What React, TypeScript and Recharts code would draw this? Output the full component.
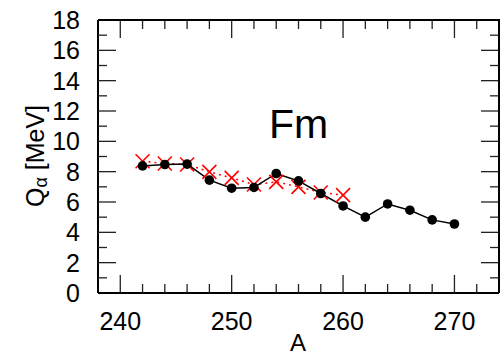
import React from 'react'
import { LineChart, Line, XAxis, YAxis } from 'recharts'

// mass number A
const massNumbers = [242, 244, 246, 248, 250, 252, 254, 256, 258, 260, 262, 264, 266, 268, 270]
// Q-alpha (MeV), black circles
const qExp = [8.38, 8.47, 8.5, 7.44, 6.91, 6.96, 7.88, 7.39, 6.56, 5.74, 5.0, 5.87, 5.46, 4.82, 4.55]
// Q-alpha (MeV), red crosses (only up to A=260)
const qCalc = [8.69, 8.54, 8.47, 7.99, 7.59, 7.15, 7.33, 7.0, 6.63, 6.45]

const xMajor = [240, 250, 260, 270]
const xTicks = [238, 240, 242, 244, 246, 248, 250, 252, 254, 256, 258, 260, 262, 264, 266, 268, 270, 272, 274]
const yTicks = [0, 1, 2, 3, 4, 5, 6, 7, 8, 9, 10, 11, 12, 13, 14, 15, 16, 17, 18]

const data = massNumbers.map((a, i) => ({ a, exp: qExp[i], calc: i < qCalc.length ? qCalc[i] : null }))

const W = 500
const H = 356
const M = { top: 20, right: 1, left: 0, bottom: 0 }
const Y_AXIS_W = 98
const X_AXIS_H = 63
const FONT = 'Liberation Sans, Arial, sans-serif'

const MAJOR = 18
const MINOR = 9

// bottom axis tick: label + inward tick at bottom and the mirrored one at top
function XTick({ x, payload }: any) {
  const v = payload.value
  if (v === 238 || v === 274) return null
  const major = xMajor.includes(v)
  const len = major ? MAJOR : MINOR
  const yb = H - M.bottom - X_AXIS_H
  const yt = M.top
  return (
    <g>
      <line x1={x} x2={x} y1={yb} y2={yb - len} stroke="#222" strokeWidth={1.3} />
      <line x1={x} x2={x} y1={yt} y2={yt + len} stroke="#222" strokeWidth={1.3} />
      {major && (
        <text x={x} y={yb + 37} textAnchor="middle" fontSize={25} fill="#000" fontFamily={FONT}>
          {v}
        </text>
      )}
    </g>
  )
}

// left axis tick: label + inward tick at left and the mirrored one at right
function YTick({ y, payload }: any) {
  const v = payload.value
  const major = v % 2 === 0
  const len = major ? MAJOR : MINOR
  const xl = M.left + Y_AXIS_W
  const xr = W - M.right
  return (
    <g>
      {v !== 0 && v !== 18 && (
        <g>
          <line x1={xl} x2={xl + len} y1={y} y2={y} stroke="#222" strokeWidth={1.3} />
          <line x1={xr} x2={xr - len} y1={y} y2={y} stroke="#222" strokeWidth={1.3} />
        </g>
      )}
      {major && (
        <text x={xl - 18} y={y + 9} textAnchor="end" fontSize={25} fill="#000" fontFamily={FONT}>
          {v}
        </text>
      )}
    </g>
  )
}

function Cross({ cx, cy }: any) {
  if (cx == null || cy == null) return null
  const s = 7
  return (
    <g stroke="#ff0000" strokeWidth={1.6}>
      <line x1={cx - s} y1={cy - s} x2={cx + s} y2={cy + s} />
      <line x1={cx - s} y1={cy + s} x2={cx + s} y2={cy - s} />
    </g>
  )
}

function YLabel() {
  const cx = 35
  const cy = 156
  return (
    <text
      x={cx}
      y={cy}
      transform={`rotate(-90 ${cx} ${cy})`}
      textAnchor="middle"
      dominantBaseline="central"
      fontSize={25}
      fontFamily={FONT}
      fill="#000"
    >
      Q<tspan fontSize={18} dy={6}>α</tspan>
      <tspan dy={-6}>{'  [MeV]'}</tspan>
    </text>
  )
}

function XLabel() {
  return (
    <text x={298} y={H - 5} textAnchor="middle" fontSize={24} fontFamily={FONT} fill="#000">
      A
    </text>
  )
}

export default function App() {
  return (
    <div style={{ position: 'absolute', left: 0, top: 0, width: W, height: H, background: '#fff' }}>
      <LineChart width={W} height={H} data={data} margin={M}>
        <XAxis
          dataKey="a"
          type="number"
          domain={[238, 274]}
          ticks={xTicks}
          interval={0}
          height={X_AXIS_H}
          tickLine={false}
          tick={<XTick />}
          axisLine={{ stroke: '#000', strokeWidth: 2 }}
          label={<XLabel />}
        />
        <YAxis
          type="number"
          domain={[0, 18]}
          ticks={yTicks}
          interval={0}
          width={Y_AXIS_W}
          tickLine={false}
          tick={<YTick />}
          axisLine={{ stroke: '#000', strokeWidth: 2 }}
          label={<YLabel />}
        />
        <Line
          dataKey="calc"
          stroke="#ff0000"
          strokeWidth={1.5}
          strokeDasharray="2 4"
          dot={<Cross />}
          connectNulls={false}
          isAnimationActive={false}
        />
        <Line
          dataKey="exp"
          stroke="#000"
          strokeWidth={1.5}
          dot={{ r: 4.8, fill: '#000', stroke: '#000', strokeWidth: 0 }}
          isAnimationActive={false}
        />
      </LineChart>
      {/* top and right edges of the plot frame */}
      <div
        style={{
          position: 'absolute',
          left: M.left + Y_AXIS_W,
          top: M.top - 1,
          width: W - M.right - M.left - Y_AXIS_W + 1,
          height: H - M.top - X_AXIS_H + 1,
          boxSizing: 'border-box',
          borderTop: '2px solid #000',
          borderRight: '2px solid #000',
          pointerEvents: 'none',
        }}
      />
      <div
        style={{
          position: 'absolute',
          left: 269,
          top: 100,
          fontSize: 41,
          fontFamily: FONT,
          color: '#000',
          lineHeight: '48px',
        }}
      >
        Fm
      </div>
    </div>
  )
}
